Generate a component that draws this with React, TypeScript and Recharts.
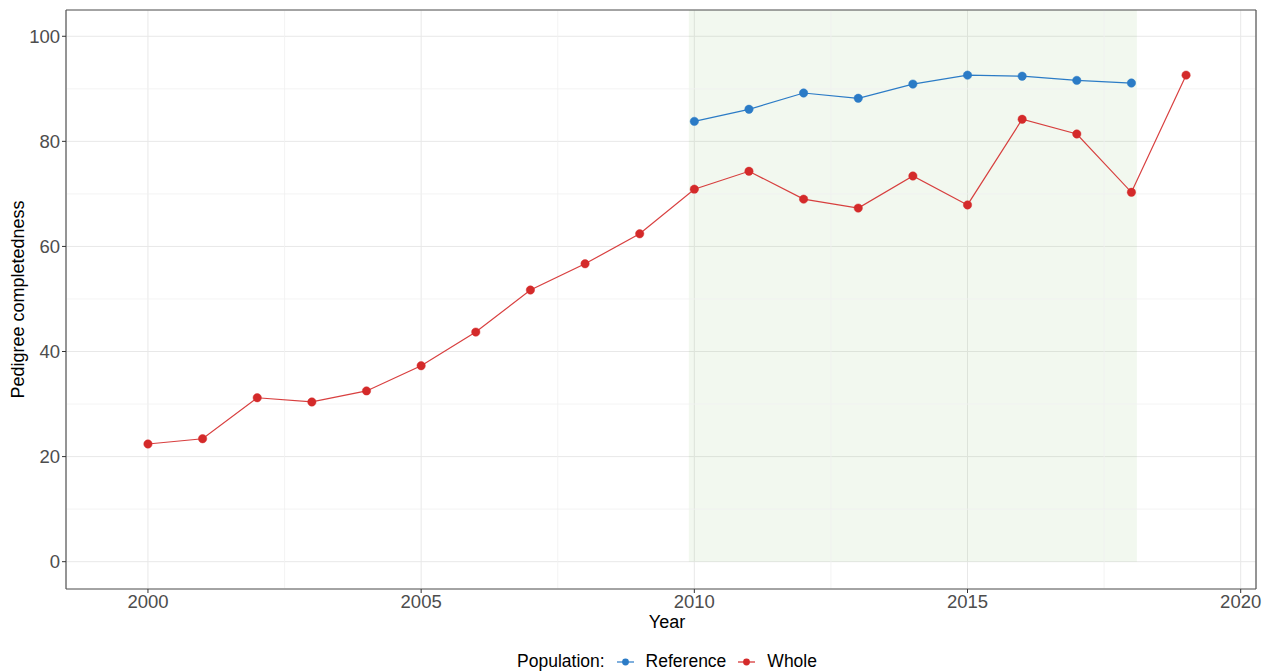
import React from "react";
import {
  LineChart,
  Line,
  XAxis,
  YAxis,
  CartesianGrid,
  ReferenceArea,
  ReferenceLine,
  Legend,
} from "recharts";

const YEARS = [
  2000, 2001, 2002, 2003, 2004, 2005, 2006, 2007, 2008, 2009, 2010, 2011,
  2012, 2013, 2014, 2015, 2016, 2017, 2018, 2019,
];
const WHOLE = [
  22.4, 23.4, 31.2, 30.4, 32.5, 37.3, 43.7, 51.7, 56.7, 62.4, 70.9, 74.3,
  69.0, 67.3, 73.4, 67.9, 84.2, 81.4, 70.3, 92.6,
];
const REFERENCE: (number | null)[] = [
  null, null, null, null, null, null, null, null, null, null, 83.8, 86.1,
  89.2, 88.2, 90.9, 92.6, 92.4, 91.6, 91.1, null,
];
const X_TICKS = [2000, 2005, 2010, 2015, 2020];
const Y_TICKS = [0, 20, 40, 60, 80, 100];
const MINOR_X = [2002.5, 2007.5, 2012.5, 2017.5];
const MINOR_Y = [10, 30, 50, 70, 90];
const SHADE = { from: 2009.9, to: 2018.1 };
const X_DOMAIN = [1998.5, 2020.28];
const Y_DOMAIN = [-5.2, 105];

const BLUE = "#2b7bc6";
const RED = "#d42a2a";
const BORDER = "#555";
const FONT = "'Liberation Sans', Arial, sans-serif";

const data = YEARS.map((year, i) => ({
  year,
  whole: WHOLE[i],
  reference: REFERENCE[i],
}));

const YLabel = (props: any) => {
  const vb = props.viewBox;
  const x = 18;
  const y = vb.y + vb.height / 2;
  return (
    <text
      x={x}
      y={y}
      transform={`rotate(-90, ${x}, ${y})`}
      textAnchor="middle"
      dominantBaseline="central"
      fontSize={18}
      fontFamily={FONT}
      fill="#000"
    >
      Pedigree completedness
    </text>
  );
};

const XLabel = (props: any) => {
  const vb = props.viewBox;
  return (
    <text
      x={vb.x + vb.width / 2 + 6}
      y={vb.y + 39}
      textAnchor="middle"
      fontSize={18}
      fontFamily={FONT}
      fill="#000"
    >
      Year
    </text>
  );
};

const LegendContent = () => {
  const item = (color: string, label: string) => (
    <span style={{ display: "inline-flex", alignItems: "center", marginLeft: 12 }}>
      <svg width={17} height={12}>
        <line x1={0} y1={6} x2={17} y2={6} stroke={color} strokeWidth={1.2} />
        <circle cx={8.5} cy={6} r={3.4} fill={color} />
      </svg>
      <span style={{ marginLeft: 12 }}>{label}</span>
    </span>
  );
  return (
    <div
      style={{
        display: "flex",
        justifyContent: "center",
        alignItems: "center",
        fontFamily: FONT,
        fontSize: 17.5,
        color: "#000",
        paddingTop: 22,
        paddingLeft: 78,
      }}
    >
      <span>Population:</span>
      {item(BLUE, "Reference")}
      {item(RED, "Whole")}
    </div>
  );
};

export default function App() {
  return (
    <div style={{ position: "absolute", left: 0, top: 0, background: "#fff" }}>
      <LineChart
        width={1271}
        height={671}
        data={data}
        margin={{ top: 10, right: 15, bottom: 0, left: 0 }}
      >
        <CartesianGrid stroke="#e8e8e8" strokeWidth={1} />
        {MINOR_X.map((v) => (
          <ReferenceLine key={`mx${v}`} x={v} stroke="#f0f0f0" strokeWidth={0.8} />
        ))}
        {MINOR_Y.map((v) => (
          <ReferenceLine key={`my${v}`} y={v} stroke="#f0f0f0" strokeWidth={0.8} />
        ))}
        <ReferenceArea
          x1={SHADE.from}
          x2={SHADE.to}
          y1={0}
          y2={Y_DOMAIN[1]}
          fill="#6ab04c"
          fillOpacity={0.09}
          stroke="none"
          ifOverflow="hidden"
        />
        <ReferenceLine y={Y_DOMAIN[1]} stroke={BORDER} strokeWidth={1.2} />
        <ReferenceLine x={X_DOMAIN[1]} stroke={BORDER} strokeWidth={1.2} />
        <XAxis
          dataKey="year"
          type="number"
          domain={X_DOMAIN}
          ticks={X_TICKS}
          allowDataOverflow
          height={40}
          tickSize={4}
          tickLine={{ stroke: "#333" }}
          axisLine={{ stroke: BORDER, strokeWidth: 1.2 }}
          tick={{ fill: "#4d4d4d", fontSize: 18.5, fontFamily: FONT }}
          label={<XLabel />}
        />
        <YAxis
          type="number"
          domain={Y_DOMAIN}
          ticks={Y_TICKS}
          allowDataOverflow
          width={66}
          tickSize={4}
          tickLine={{ stroke: "#333" }}
          axisLine={{ stroke: BORDER, strokeWidth: 1.2 }}
          tick={{ fill: "#4d4d4d", fontSize: 18.5, fontFamily: FONT }}
          label={<YLabel />}
        />
        <Line
          dataKey="reference"
          stroke={BLUE}
          strokeWidth={1.2}
          dot={{ r: 4.2, fill: BLUE, stroke: BLUE, strokeWidth: 0.5 }}
          activeDot={false}
          isAnimationActive={false}
        />
        <Line
          dataKey="whole"
          stroke={RED}
          strokeWidth={1.2}
          strokeOpacity={0.9}
          dot={{ r: 4.2, fill: RED, stroke: RED, strokeWidth: 0.5 }}
          activeDot={false}
          isAnimationActive={false}
        />
        <Legend verticalAlign="bottom" height={42} content={<LegendContent />} />
      </LineChart>
    </div>
  );
}
